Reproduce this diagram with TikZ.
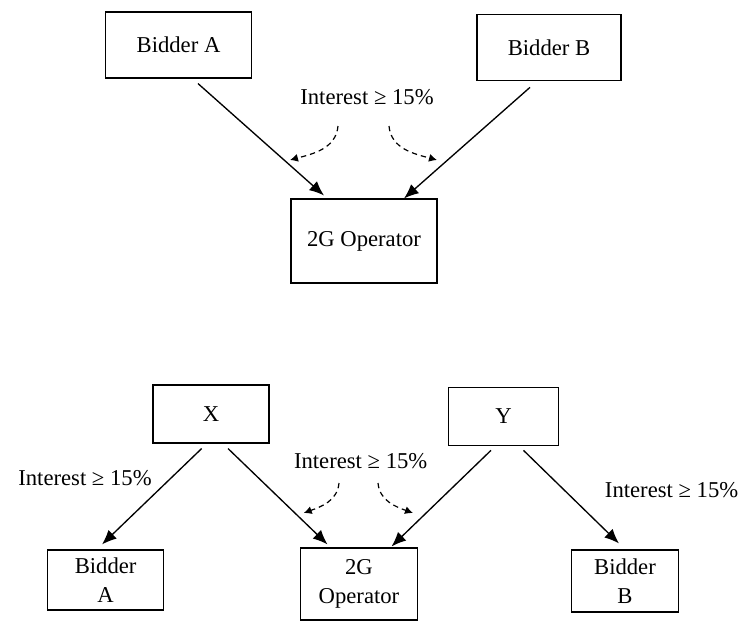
\documentclass[tikz,border=0pt]{standalone}
\usepackage{fontspec}
\setmainfont{Liberation Serif}
\usetikzlibrary{arrows.meta}

\begin{document}
\begin{tikzpicture}[x=0.75pt, y=-0.75pt,
    every node/.style={font=\fontsize{17}{22}\selectfont},
    box/.style={draw, line width=0.8pt, inner sep=0pt, align=center},
    link/.style={line width=1pt, -{Latex[length=11pt,width=9pt]}},
    hint/.style={line width=0.9pt, dash pattern=on 4pt off 3pt, -{Latex[length=6pt,width=6pt]}}]

    \useasboundingbox (0,0) rectangle (744,621);

    % direct holdings
    \node[box, minimum width=110pt, minimum height=49.5pt] (bidA) at (178.5,45) {Bidder A};
    \node[box, minimum width=108pt, minimum height=50pt] (bidB) at (549,47.5) {Bidder B};
    \node[box, minimum width=109.5pt, minimum height=63pt] (op) at (364,241) {2G Operator};

    \draw[link] ([xshift=14.6pt, yshift=-3.75pt]bidA.south) -- ([xshift=-30pt, yshift=2.25pt]op.north); % A - operator
    \draw[link] ([xshift=-14.25pt, yshift=-4.5pt]bidB.south) -- ([xshift=30pt]op.north); % B - operator

    \node[inner sep=0pt] (share) at (367,97) {Interest ≥ 15\%};
    \coordinate (shareL) at (338,126);
    \coordinate (shareLend) at (290,160);
    \coordinate (shareR) at (389,126);
    \coordinate (shareRend) at (437,160);
    \draw[hint] (shareL) to[out=-95, in=15] (shareLend);
    \draw[hint] (shareR) to[out=-85, in=165] (shareRend);

    % indirect holdings
    \node[box, minimum width=87pt, minimum height=43.5pt] (hX) at (211,414) {X};
    \node[box, minimum width=82pt, minimum height=44pt] (hY) at (503.5,416.5) {Y};
    \node[box, minimum width=87pt, minimum height=45pt] (bidA2) at (105.6,580) {Bidder\\A};
    \node[box, minimum width=88pt, minimum height=54pt] (op2) at (359,584) {2G\\Operator};
    \node[box, minimum width=80pt, minimum height=46.5pt] (bidB2) at (625,581) {Bidder\\B};

    \draw[link] ([xshift=-7pt, yshift=-3.75pt]hX.south) -- ([xshift=-2.7pt, yshift=3.75pt]bidA2.north); % X - bidder A
    \draw[link] ([xshift=12.75pt, yshift=-3.75pt]hX.south) -- ([xshift=-23.6pt, yshift=2.25pt]op2.north); % X - operator
    \draw[link] ([xshift=-9.4pt, yshift=-3pt]hY.south) -- ([xshift=24.4pt, yshift=0.75pt]op2.north); % Y - operator
    \draw[link] ([xshift=15pt, yshift=-3pt]hY.south) -- ([xshift=-4.5pt, yshift=4.5pt]bidB2.north); % Y - bidder B

    \node[inner sep=0pt] (shareXA) at (85,478) {Interest ≥ 15\%};
    \node[inner sep=0pt] (shareOp) at (360.7,461) {Interest ≥ 15\%};
    \node[inner sep=0pt] (shareYB) at (671.6,490) {Interest ≥ 15\%};

    \coordinate (opL) at (339,483);
    \coordinate (opLend) at (303.7,513);
    \coordinate (opR) at (378,483);
    \coordinate (opRend) at (413,513);
    \draw[hint] (opL) to[out=-95, in=20] (opLend);
    \draw[hint] (opR) to[out=-85, in=160] (opRend);
\end{tikzpicture}
\end{document}
